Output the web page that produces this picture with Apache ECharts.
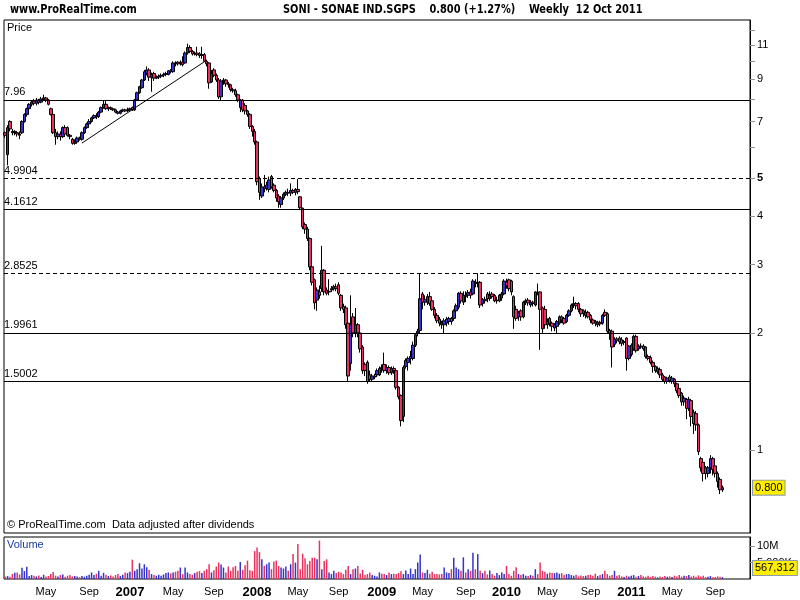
<!DOCTYPE html>
<html><head><meta charset="utf-8">
<script src="https://cdn.jsdelivr.net/npm/echarts@6/dist/echarts.min.js"></script>
<style>html,body{margin:0;padding:0;background:#fff}#c{width:800px;height:600px}</style>
</head><body><div id="c"></div><script>
// ---- data ----
const startDate = '2006-01-02';   // first weekly bar
const padWeeks = 11;              // empty weeks right of the last bar
// weekly candles [open, close, low, high]
const ohlc = [
[6.55,6.45,6.35,6.6],[5.75,6.75,5.4,6.85],[7.0,6.7,6.6,7.05],[6.6,6.55,6.45,6.7],[6.55,6.6,6.45,6.65],[6.55,6.5,6.4,6.6],[6.5,6.45,6.3,6.6],[6.55,7.0,6.5,7.05],[7.0,7.3,6.95,7.35],[7.3,7.55,7.2,7.6],
[7.55,7.75,7.5,7.8],[7.75,7.85,7.65,7.95],[7.9,7.8,7.7,8.0],[7.8,7.95,7.7,8.05],[7.95,7.85,7.75,8.0],[7.85,8.0,7.8,8.1],[8.0,8.05,7.9,8.2],[8.05,7.95,7.85,8.1],[7.95,7.75,7.7,8.0],[7.55,7.3,7.25,7.6],
[7.3,6.55,6.5,7.3],[6.55,6.4,6.1,6.7],[6.4,6.5,6.3,6.6],[6.5,6.4,6.25,6.6],[6.4,6.75,6.35,6.8],[6.75,6.5,6.4,6.85],[6.75,6.45,6.4,6.8],[6.45,6.4,6.3,6.5],[6.3,6.15,6.1,6.35],[6.15,6.2,6.1,6.3],
[6.2,6.35,6.15,6.4],[6.35,6.3,6.25,6.4],[6.3,6.55,6.25,6.6],[6.55,6.75,6.5,6.8],[6.75,6.9,6.7,6.95],[6.9,7.0,6.85,7.1],[7.0,7.15,6.95,7.2],[7.15,7.25,7.1,7.3],[7.25,7.2,7.1,7.35],[7.2,7.4,7.15,7.45],
[7.4,7.6,7.35,7.65],[7.6,7.75,7.55,7.95],[7.75,7.55,7.5,7.9],[7.55,7.6,7.45,7.65],[7.6,7.55,7.5,7.65],[7.55,7.5,7.45,7.6],[7.5,7.4,7.35,7.55],[7.4,7.35,7.3,7.45],[7.35,7.45,7.3,7.5],[7.45,7.5,7.4,7.55],
[7.5,7.45,7.4,7.55],[7.45,7.5,7.4,7.6],[7.5,7.55,7.45,7.6],[7.6,7.5,7.45,7.65],[7.5,7.95,7.45,8.0],[7.95,8.3,7.9,8.35],[8.3,8.6,8.25,8.65],[8.55,8.95,8.5,9.0],[8.95,9.4,8.9,9.5],[9.3,9.5,9.2,9.7],
[9.5,9.1,8.9,9.6],[9.1,9.25,8.35,9.35],[9.3,9.05,8.9,9.4],[9.05,9.1,9.0,9.2],[9.1,9.15,9.0,9.25],[9.15,9.2,9.05,9.3],[9.2,9.25,9.1,9.35],[9.25,9.3,9.15,9.4],[9.25,9.45,9.2,9.5],[9.45,9.4,9.3,9.55],
[9.4,9.9,9.35,10.0],[9.9,9.85,9.7,10.0],[9.95,9.85,9.75,10.0],[9.85,9.9,9.75,10.05],[9.95,9.8,9.7,10.3],[9.9,10.5,9.85,10.6],[10.5,10.85,10.4,11.1],[10.85,10.6,10.5,11.0],[10.6,10.45,10.35,10.7],[10.45,10.5,10.35,10.6],
[10.5,10.4,10.3,10.9],[10.45,10.35,10.2,10.55],[10.35,10.4,10.15,10.9],[10.4,10.0,9.95,10.5],[10.0,9.85,9.7,10.1],[9.9,8.8,8.5,9.95],[8.85,9.3,8.8,9.5],[9.5,9.2,9.1,9.6],[9.2,8.95,8.85,9.3],[8.95,8.1,8.0,9.05],
[8.1,8.9,7.9,9.0],[8.9,8.95,8.7,9.05],[8.95,8.75,8.6,9.0],[8.75,8.7,8.55,8.85],[8.7,8.45,8.35,8.75],[8.45,8.4,8.3,8.55],[8.4,8.2,8.1,8.5],[8.2,7.95,7.85,8.25],[7.6,7.95,7.4,8.0],[7.95,7.5,7.4,8.0],
[7.7,7.45,7.3,7.8],[7.45,7.3,7.2,7.5],[7.3,6.8,6.7,7.35],[6.8,6.6,6.4,6.85],[6.6,6.2,6.1,6.7],[6.2,4.9,4.8,6.25],[5.0,4.6,4.4,5.05],[4.5,4.75,4.45,4.85],[4.75,4.7,4.6,5.1],[4.7,4.8,4.65,4.9],
[4.68,4.95,4.6,5.05],[5.05,4.75,4.7,5.1],[4.8,4.65,4.6,4.85],[4.65,4.45,4.35,4.7],[4.5,4.35,4.2,4.55],[4.28,4.45,4.2,4.5],[4.45,4.55,4.4,4.6],[4.55,4.6,4.5,4.65],[4.6,4.58,4.5,4.7],[4.58,4.65,4.5,4.85],
[4.65,4.6,4.55,4.7],[4.6,4.68,4.52,4.72],[4.68,4.62,4.55,4.98],[4.48,4.2,4.15,4.5],[4.19,3.75,3.7,4.2],[3.8,3.7,3.6,3.85],[3.7,3.5,3.45,3.75],[3.5,2.96,2.9,3.52],[2.96,2.7,2.65,2.98],[2.74,2.39,2.3,2.76],
[2.43,2.58,2.28,2.62],[2.55,2.5,2.45,2.65],[2.6,2.9,2.55,3.35],[2.9,2.55,2.5,2.92],[2.58,2.53,2.5,2.62],[2.55,2.56,2.5,2.75],[2.58,2.6,2.55,2.64],[2.6,2.63,2.57,2.66],[2.63,2.6,2.56,2.68],[2.66,2.53,2.5,2.7],
[2.5,2.32,2.28,2.52],[2.34,2.3,2.25,2.38],[2.32,2.1,2.05,2.35],[2.12,1.55,1.5,2.15],[1.67,2.1,1.6,2.5],[2.2,2.0,1.95,2.25],[2.0,2.1,1.95,2.32],[2.1,2.0,1.95,2.12],[2.0,1.82,1.78,2.02],[1.84,1.6,1.57,1.86],
[1.66,1.6,1.55,1.68],[1.68,1.5,1.48,1.7],[1.56,1.52,1.5,1.6],[1.52,1.55,1.5,1.57],[1.54,1.55,1.52,1.57],[1.56,1.6,1.54,1.62],[1.56,1.62,1.55,1.64],[1.63,1.62,1.58,1.66],[1.66,1.6,1.58,1.78],[1.6,1.63,1.57,1.66],
[1.63,1.58,1.56,1.65],[1.58,1.62,1.56,1.64],[1.62,1.6,1.57,1.64],[1.6,1.45,1.43,1.61],[1.45,1.37,1.35,1.46],[1.38,1.19,1.15,1.39],[1.22,1.63,1.18,1.65],[1.64,1.7,1.62,1.72],[1.68,1.72,1.6,1.74],[1.72,1.74,1.66,1.8],
[1.72,1.86,1.7,1.9],[1.86,1.98,1.84,2.0],[2.0,2.02,1.96,2.05],[2.03,2.45,2.0,2.85],[2.52,2.4,2.3,2.55],[2.4,2.44,2.35,2.5],[2.4,2.48,2.36,2.52],[2.48,2.38,2.35,2.55],[2.42,2.3,2.28,2.45],[2.3,2.22,2.18,2.33],
[2.22,2.15,2.12,2.25],[2.17,2.12,2.08,2.2],[2.12,2.1,2.05,2.15],[2.1,2.15,2.0,2.18],[2.12,2.17,2.08,2.2],[2.14,2.18,2.1,2.2],[2.18,2.14,2.1,2.2],[2.18,2.28,2.15,2.3],[2.28,2.35,2.25,2.38],[2.33,2.53,2.3,2.55],
[2.53,2.42,2.38,2.56],[2.4,2.5,2.36,2.56],[2.5,2.48,2.4,2.56],[2.5,2.54,2.46,2.58],[2.55,2.5,2.45,2.6],[2.52,2.72,2.5,2.75],[2.7,2.68,2.62,2.75],[2.68,2.7,2.62,2.85],[2.7,2.36,2.32,2.72],[2.38,2.44,2.34,2.46],
[2.44,2.42,2.38,2.48],[2.52,2.45,2.4,2.55],[2.45,2.5,2.42,2.56],[2.52,2.48,2.45,2.55],[2.5,2.42,2.4,2.52],[2.42,2.43,2.38,2.48],[2.42,2.5,2.4,2.52],[2.46,2.52,2.42,2.55],[2.52,2.72,2.5,2.75],[2.7,2.65,2.6,2.76],
[2.74,2.6,2.56,2.76],[2.72,2.55,2.5,2.74],[2.48,2.2,2.05,2.5],[2.3,2.18,2.15,2.35],[2.2,2.25,2.15,2.28],[2.28,2.2,2.15,2.3],[2.2,2.4,2.18,2.42],[2.4,2.42,2.36,2.45],[2.43,2.39,2.35,2.46],[2.36,2.4,2.33,2.43],
[2.4,2.38,2.34,2.42],[2.36,2.55,2.34,2.56],[2.54,2.53,2.5,2.68],[2.55,2.3,1.81,2.56],[2.32,2.05,2.0,2.34],[2.3,2.1,2.05,2.35],[2.1,2.14,2.05,2.18],[2.18,2.12,2.08,2.2],[2.12,2.08,2.02,2.14],[2.06,2.1,2.02,2.12],
[2.08,2.14,2.0,2.16],[2.12,2.2,2.1,2.22],[2.2,2.16,2.12,2.22],[2.18,2.12,2.1,2.2],[2.14,2.22,2.12,2.24],[2.22,2.28,2.2,2.3],[2.28,2.36,2.26,2.38],[2.36,2.38,2.32,2.48],[2.38,2.35,2.3,2.4],[2.38,2.3,2.26,2.4],
[2.3,2.24,2.2,2.32],[2.28,2.25,2.2,2.3],[2.22,2.26,2.18,2.3],[2.26,2.2,2.18,2.28],[2.22,2.16,2.12,2.24],[2.16,2.12,2.1,2.18],[2.14,2.12,2.08,2.16],[2.1,2.13,2.07,2.15],[2.13,2.11,2.08,2.15],[2.12,2.22,2.1,2.24],
[2.26,2.22,2.2,2.3],[2.24,2.02,2.0,2.26],[2.03,2.0,1.92,2.05],[2.02,1.84,1.63,2.04],[1.87,1.93,1.84,1.95],[1.93,1.91,1.88,1.95],[1.94,1.9,1.87,1.96],[1.92,1.88,1.85,1.95],[1.89,1.9,1.86,1.92],[1.94,1.72,1.6,1.95],
[1.72,1.85,1.7,1.86],[1.76,1.86,1.74,1.88],[1.82,1.96,1.8,1.98],[1.96,1.8,1.78,1.98],[1.82,1.85,1.8,1.87],[1.85,1.84,1.82,1.88],[1.85,1.82,1.8,1.87],[1.84,1.74,1.72,1.85],[1.74,1.72,1.7,1.76],[1.73,1.68,1.66,1.75],
[1.68,1.64,1.58,1.7],[1.64,1.6,1.58,1.65],[1.59,1.62,1.57,1.64],[1.61,1.56,1.53,1.63],[1.56,1.52,1.5,1.58],[1.54,1.5,1.48,1.55],[1.5,1.53,1.48,1.54],[1.54,1.51,1.49,1.56],[1.5,1.53,1.48,1.55],[1.52,1.48,1.45,1.53],
[1.48,1.42,1.4,1.49],[1.44,1.38,1.36,1.45],[1.4,1.33,1.3,1.41],[1.33,1.36,1.3,1.38],[1.35,1.28,1.2,1.36],[1.28,1.35,1.26,1.37],[1.34,1.22,1.15,1.35],[1.25,1.17,1.1,1.27],[1.24,1.16,1.12,1.26],[1.16,0.99,0.97,1.17],
[0.95,0.9,0.88,0.96],[0.93,0.87,0.83,0.94],[0.9,0.87,0.84,0.91],[0.87,0.9,0.85,0.91],[0.9,0.95,0.87,0.97],[0.95,0.89,0.86,0.96],[0.91,0.87,0.85,0.92],[0.87,0.83,0.8,0.88],[0.84,0.79,0.77,0.85],[0.79,0.8,0.78,0.81]
];
// weekly volume, millions of shares
const volumes = [
0.8,0.9,0.7,1.5,1.9,2.0,1.4,3.4,2.4,3.7,
0.9,1.2,1.0,0.8,1.1,0.6,1.3,0.8,0.9,1.5,
2.1,1.0,0.8,1.2,1.4,0.7,1.0,1.2,0.8,0.9,
0.8,0.6,0.9,0.7,1.0,1.3,2.0,1.2,1.6,2.5,
1.0,1.9,1.3,0.9,1.1,0.8,1.2,1.5,0.9,1.3,
2.0,1.8,2.2,5.9,2.5,3.0,4.8,3.2,4.5,3.6,
2.8,1.5,1.2,1.0,1.3,1.0,1.4,1.8,2.0,1.7,
2.0,2.2,2.5,3.5,1.5,3.5,2.0,1.5,1.3,1.8,
2.2,2.4,1.8,2.5,3.0,4.5,2.0,2.7,3.8,5.0,
4.4,3.5,2.0,3.8,2.5,3.6,4.0,2.5,5.2,2.8,
4.2,5.6,2.7,2.5,8.5,9.6,8.2,6.0,4.0,4.5,
5.0,3.0,5.3,5.6,4.0,3.5,3.2,3.8,2.5,4.5,
7.6,5.0,10.7,3.0,7.7,6.3,4.5,5.5,6.5,6.5,
6.0,11.7,3.0,5.5,6.0,2.0,1.5,2.5,1.8,2.2,
2.0,1.5,2.8,4.0,1.5,3.0,3.2,4.0,1.7,2.8,
1.2,1.5,2.0,1.2,1.0,0.8,2.0,1.6,1.5,1.2,
2.0,1.5,1.6,1.5,1.8,2.4,1.5,2.6,1.5,3.2,
1.5,3.0,5.0,7.5,2.0,1.8,2.8,1.6,2.2,1.5,
1.5,1.4,1.5,3.5,2.0,1.8,3.0,6.5,3.5,3.0,
2.5,6.6,2.0,3.0,2.5,8.0,3.0,7.6,2.5,1.8,
2.5,1.4,2.6,1.5,1.0,1.8,1.2,2.0,1.5,4.0,
1.5,1.0,2.5,3.6,1.5,1.2,1.5,1.0,0.9,1.2,
1.0,3.0,1.5,5.0,2.5,2.2,1.6,2.0,1.8,1.8,
2.0,1.6,1.8,1.2,1.5,1.5,1.2,1.0,1.3,0.8,
1.1,0.9,1.0,1.2,1.3,1.0,1.6,0.9,1.2,1.5,
2.5,1.5,1.0,1.2,2.5,1.0,1.2,0.8,0.6,1.0,
0.8,1.0,1.2,0.7,0.9,1.2,0.8,0.7,1.0,0.6,
0.9,0.7,0.5,0.8,0.6,0.9,0.7,0.8,0.6,1.0,
0.8,1.2,0.7,1.0,0.9,1.2,0.8,1.0,0.7,1.1,
0.8,1.0,0.6,0.7,0.9,0.5,0.6,0.8,0.7,0.567312
];
const levels = [7.96, 4.9904, 4.1612, 2.8525, 1.9961, 1.5002];
const levelLabels = ['7.96', '4.9904', '4.1612', '2.8525', '1.9961', '1.5002'];
const dashedLevels = [4.9904, 2.8525];
const priceLabelValues = [1, 2, 3, 4, 5, 7, 9, 11];
const priceTickValues = [1, 2, 3, 4, 5, 6, 7, 8, 9, 10, 11, 12];
const volumeLabelValues = [5, 10];
const volumeLabelTexts = ['5,000K', '10M'];
const trendStart = [32, 6.16];   // [week index, price]
const trendEnd = [83, 9.97];
const titleText = 'SONI - SONAE IND.SGPS    0.800 (+1.27%)    Weekly  12 Oct 2011';
const monthNames = ['Jan','Feb','Mar','Apr','May','Jun','Jul','Aug','Sep','Oct','Nov','Dec'];

// ---- build ----
const dates = [];
const d0 = Date.parse(startDate + 'T00:00:00Z');
for (let i = 0; i < ohlc.length + padWeeks; i++) {
  dates.push(new Date(d0 + i * 7 * 86400000).toISOString().slice(0, 10));
}
const UP = '#3434cc', DOWN = '#e8325e';
const lastClose = ohlc[ohlc.length - 1][1];
const lastVol = volumes[volumes.length - 1];

function isLabel(idx, val) {
  if (idx < 3) return false;
  const m = +val.slice(5, 7) - 1, day = +val.slice(8, 10);
  return day <= 7 && (m === 0 || m === 4 || m === 8);
}
const FONT = '"Liberation Sans", Arial, sans-serif';
const NARROW = '"Liberation Sans Narrow", "DejaVu Sans Condensed", "Arial Narrow", sans-serif';
const HIDDEN = 'rgba(0,0,0,0)';
const yellowLabel = { show: true, position: 'end', distance: 3, color: '#000', fontSize: 11, fontFamily: FONT,
  backgroundColor: '#ffee00', borderColor: '#8c9aaa', borderWidth: 1, padding: [2, 2, 1, 2] };

const levelLines = levels.map((v, k) => ({
  yAxis: v,
  lineStyle: { color: '#000', width: 1, type: dashedLevels.includes(v) ? [4, 3] : 'solid' },
  label: { show: true, position: 'insideStartTop', formatter: levelLabels[k], color: '#000',
           fontSize: 11, fontFamily: FONT, distance: [0, 2] }
}));

const chart = echarts.init(document.getElementById('c'), null, { renderer: 'canvas' });
chart.setOption({
  animation: false,
  backgroundColor: '#fff',
  grid: [
    { left: 4, top: 20, width: 746, height: 513, show: true, borderColor: '#000', borderWidth: 1, backgroundColor: '#fff' },
    { left: 4, top: 537, width: 746, height: 42, show: true, borderColor: '#000', borderWidth: 1, backgroundColor: '#fff' }
  ],
  xAxis: [
    { type: 'category', gridIndex: 0, data: dates, boundaryGap: true,
      axisLine: { show: false }, axisTick: { show: false }, axisLabel: { show: false }, splitLine: { show: false } },
    { type: 'category', gridIndex: 1, data: dates, boundaryGap: true,
      axisLine: { show: false }, axisTick: { show: false }, splitLine: { show: false },
      axisLabel: { interval: isLabel, margin: 7, color: '#000', fontFamily: FONT,
        formatter: (val) => {
          const m = +val.slice(5, 7) - 1;
          return m === 0 ? '{y|' + val.slice(0, 4) + '}' : '{m|' + monthNames[m] + '}';
        },
        rich: { y: { fontWeight: 'bold', fontSize: 13, fontFamily: FONT, color: '#000' },
                m: { fontSize: 11, fontFamily: FONT, color: '#000' } } } }
  ],
  yAxis: [
    { type: 'log', logBase: 10, gridIndex: 0, position: 'right', min: 0.6115, max: 12.77,
      axisLine: { show: true, lineStyle: { color: '#000' } },
      axisTick: { show: true, length: 5, customValues: priceTickValues, lineStyle: { color: '#8796a6' } },
      axisLabel: { show: true, customValues: priceLabelValues, margin: 7, color: '#000', fontSize: 11, fontFamily: FONT,
        formatter: (v) => (Math.abs(v - 5) < 1e-6 ? '{b|5}' : String(Math.round(v))),
        rich: { b: { fontWeight: 'bold', fontSize: 11, fontFamily: FONT, color: '#000' } } },
      splitLine: { show: false } },
    { type: 'value', gridIndex: 1, position: 'right', min: 0, max: 12.8,
      axisLine: { show: true, lineStyle: { color: '#000' } },
      axisTick: { show: true, length: 5, customValues: volumeLabelValues, lineStyle: { color: '#8796a6' } },
      axisLabel: { show: true, customValues: volumeLabelValues, margin: 7, color: '#000', fontSize: 11, fontFamily: FONT,
        formatter: (v) => volumeLabelTexts[volumeLabelValues.indexOf(v)] },
      splitLine: { show: false } }
  ],
  series: [
    { type: 'candlestick', xAxisIndex: 0, yAxisIndex: 0, data: ohlc, barWidth: 3,
      itemStyle: { color: UP, color0: DOWN, borderColor: '#000', borderColor0: '#000', borderWidth: 1 },
      markLine: { silent: true, symbol: ['none', 'none'], animation: false,
        data: levelLines.concat([
          [ { coord: [dates[trendStart[0]], trendStart[1]], lineStyle: { color: '#000', width: 1, type: 'solid' }, label: { show: false } },
            { coord: [dates[trendEnd[0]], trendEnd[1]] } ],
          { yAxis: lastClose, lineStyle: { color: HIDDEN, width: 1 },
            label: Object.assign({}, yellowLabel, { formatter: lastClose.toFixed(3) }) }
        ]) } },
    { type: 'bar', xAxisIndex: 1, yAxisIndex: 1, barWidth: 1.5,
      data: volumes.map((v, i) => ({ value: v, itemStyle: { color: ohlc[i][1] >= ohlc[i][0] ? UP : DOWN } })),
      markLine: { silent: true, symbol: ['none', 'none'], animation: false,
        data: [ { yAxis: Math.max(lastVol, 3.35), lineStyle: { color: HIDDEN, width: 1 },
          label: Object.assign({}, yellowLabel, { formatter: Math.round(lastVol * 1e6).toLocaleString('en-US') }) } ] } }
  ],
  graphic: [
    { type: 'text', left: 10, top: 3, scaleX: 0.84, originX: 0, style: { text: 'www.ProRealTime.com', font: 'bold 13px ' + NARROW, fill: '#000' } },
    { type: 'text', left: 283, top: 3, scaleX: 0.84, originX: 0, style: { text: titleText, font: 'bold 13px ' + NARROW, fill: '#000' } },
    { type: 'text', left: 7, top: 22, style: { text: 'Price', font: '11px ' + FONT, fill: '#000' } },
    { type: 'text', left: 7, top: 519, style: { text: '\u00a9 ProRealTime.com  Data adjusted after dividends', font: '11px ' + FONT, fill: '#000' } },
    { type: 'text', left: 7, top: 539, style: { text: 'Volume', font: '11px ' + FONT, fill: '#1a3c9c' } }
  ]
});
</script></body></html>
